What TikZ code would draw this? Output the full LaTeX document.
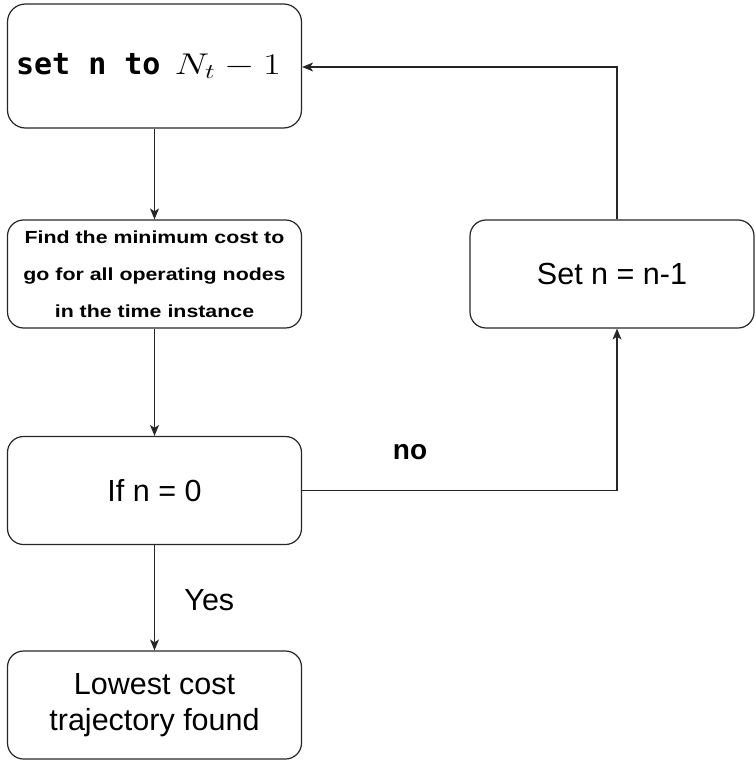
\RequirePackage{fix-cm}
\documentclass[tikz,border=0pt]{standalone}
\usepackage[no-math]{fontspec}
\setmainfont{Liberation Sans}
\setmonofont{DejaVu Sans Mono}
\usetikzlibrary{arrows.meta}
\begin{document}
\begin{tikzpicture}[x=1pt,y=-1pt,
  box/.style={draw=black!85, line width=1.2pt, rounded corners=16pt,
    minimum width=294pt, minimum height=108pt, align=center, inner sep=2pt},
  flow/.style={draw=black!85, line width=1.2pt,
    -{Stealth[length=11pt,width=9pt,inset=3pt]}},
  lbl/.style={font=\fontsize{30.5}{36}\selectfont}
]
\useasboundingbox (0,0) rectangle (755,760);

% main column of steps
\node[box, minimum height=124pt, rounded corners=18pt] (b1) at (154.5,66)
  {\fontsize{30}{34}\selectfont\ttfamily\bfseries set n to\hspace{14pt}%
   \scalebox{1.3}[1]{$N_t - 1$}\hspace{12pt}};
\node[box, font=\fontsize{17.5}{37}\selectfont\bfseries] (b2) at (154.5,274)
  {\scalebox{1.22}[1]{Find the minimum cost to}\\
   \scalebox{1.22}[1]{go for all operating nodes}\\
   \scalebox{1.22}[1]{in the time instance}};
\node[box, lbl] (b3) at (154.5,490.5) {If n = 0};
\node[box, lbl] (b4) at (154.5,705)
  {Lowest cost\\trajectory found};

% loop step on the right
\node[box, lbl, minimum width=284pt] (b5) at (612,274) {Set n = n-1};

% loop corners
\coordinate (c1) at (617,490.5);
\coordinate (c2) at (617,67);

\draw[flow] (b1) -- (b2);
\draw[flow] (b2) -- (b3);
\draw[flow] (b3) -- node[lbl, right, xshift=26pt, yshift=-2pt] {Yes} (b4);
\draw[flow] (b3.east) -- (c1) -- (b5.south -| c1);
\draw[flow] (b5.north -| c2) -- (c2) -- (b1.east |- c2);

\node[font=\fontsize{28}{32}\selectfont\bfseries] (no) at (410,452) {no};
\end{tikzpicture}
\end{document}
